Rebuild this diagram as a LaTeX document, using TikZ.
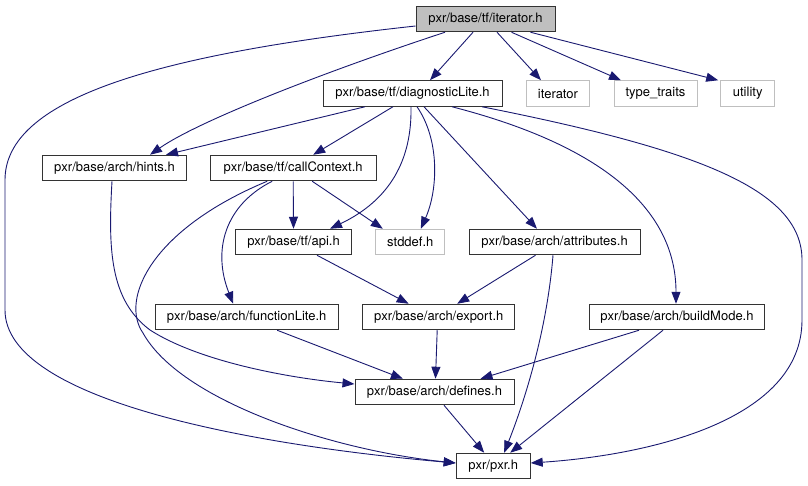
\documentclass[tikz,border=0pt]{standalone}
\usepackage{fontspec}
\setmainfont{TeX Gyre Heros}
\usepackage{tikz}
\usetikzlibrary{arrows.meta,positioning}
\definecolor{edgeblue}{HTML}{191970}
\definecolor{sysgray}{HTML}{BFBFBF}
\tikzset{
  box/.style={rectangle,draw=black!80,line width=1pt,minimum height=25.5pt,inner sep=0pt},
  sysbox/.style={box,draw=sysgray},
  dep/.style={->,color=edgeblue,line width=0.9pt}
}

\begin{document}
\begin{tikzpicture}[x=1pt,y=-1pt,font=\fontsize{13}{15}\selectfont,>={Triangle[length=12pt,width=9pt]}]
\useasboundingbox (0,0) rectangle (808,485);
% \draw[help lines,step=50] (0,0) grid (808,485);
\node (iter) [box,fill=sysgray,minimum width=139] at (485.5,19) {pxr/base/tf/iterator.h};
\node (diag) [box,minimum width=179] at (412.5,93.5) {pxr/base/tf/diagnosticLite.h};
\node (iterstd) [sysbox,minimum width=63] at (558,93.5) {iterator};
\node (ttraits) [sysbox,minimum width=83] at (655.5,93.5) {type\_traits};
\node (util) [sysbox,minimum width=54] at (747.7,93.5) {utility};
\node (hints) [box,minimum width=144] at (114.5,168) {pxr/base/arch/hints.h};
\node (ctx) [box,minimum width=166] at (293.2,168) {pxr/base/tf/callContext.h};
\node (api) [box,minimum width=116] at (293.5,242) {pxr/base/tf/api.h};
\node (stddef) [sysbox,minimum width=69] at (410.3,242) {stddef.h};
\node (attr) [box,minimum width=171] at (554.5,242) {pxr/base/arch/attributes.h};
\node (flite) [box,minimum width=183] at (246.7,317) {pxr/base/arch/functionLite.h};
\node (export) [box,minimum width=152] at (438.7,317) {pxr/base/arch/export.h};
\node (bmode) [box,minimum width=175] at (677,317) {pxr/base/arch/buildMode.h};
\node (defs) [box,minimum width=159] at (434.5,392) {pxr/base/arch/defines.h};
\node (pxr) [box,minimum width=74] at (493.2,466) {pxr/pxr.h};
%
\draw[dep] ([yshift=-7]iter.west) .. controls (150,55) and (5,100) .. (5,180) -- (5,310) .. controls (5,400) and (250,445) .. ([yshift=3]pxr.west);
\draw[dep] ([xshift=-40.5]iter.south) .. controls (330,70) and (200,120) .. ([xshift=35.5]hints.north);
\path[dep] ([xshift=-12.5]iter.south) edge ([xshift=17.5]diag.north)
  ([xshift=11.5]iter.south) edge ([xshift=-17]iterstd.north)
  ([xshift=26]iter.south) edge ([xshift=-34.5]ttraits.north)
  ([xshift=45]iter.south) edge ([xshift=-2]util.north west);
%
\path[dep] ([xshift=-47.5]diag.south) edge ([xshift=51.5]hints.north)
  ([xshift=-19.5]diag.south) edge ([xshift=20]ctx.north)
  ([xshift=11.5]diag.south) edge ([xshift=-17.5]attr.north);
\draw[dep] ([xshift=-1.5]diag.south) .. controls (412,160) and (390,200) .. ([xshift=36.5]api.north);
\draw[dep] ([xshift=4.5]diag.south) .. controls (440,140) and (438,190) .. ([xshift=10.5]stddef.north);
\draw[dep] ([xshift=39.5]diag.south) .. controls (620,150) and (676,220) .. ([xshift=-1]bmode.north);
\draw[dep] ([xshift=69.5]diag.south) .. controls (700,150) and (802,190) .. (802,260) -- (802,320) .. controls (802,420) and (650,455) .. ([yshift=3]pxr.east);
%
\draw[dep] ([xshift=-2.5]hints.south) .. controls (108,250) and (110,300) .. (150,330) .. controls (200,362) and (290,378) .. ([yshift=8]defs.west);
\path[dep] (ctx.south) edge (api.north)
  ([xshift=19]ctx.south) edge ([xshift=-27.5]stddef.north);
\draw[dep] ([xshift=-21]ctx.south) .. controls (225,205) and (212,250) .. ([xshift=-13.5]flite.north);
\draw[dep] ([xshift=-26]ctx.south) .. controls (150,230) and (120,300) .. (143,333) .. controls (180,400) and (330,450) .. ([yshift=3]pxr.west);
%
\path[dep] ([xshift=23.5]api.south) edge ([xshift=-30]export.north)
  ([xshift=-19]attr.south) edge ([xshift=18.5]export.north)
  ([xshift=30.5]flite.south) edge ([xshift=-31.5]defs.north)
  ([xshift=-1.5]export.south) edge ([xshift=1]defs.north)
  ([xshift=-38]bmode.south) edge ([xshift=46]defs.north)
  ([xshift=-14]bmode.south) edge ([xshift=17]pxr.north)
  ([xshift=9.5]defs.south) edge ([xshift=-9]pxr.north);
\draw[dep] ([xshift=-1.5]attr.south) .. controls (547,330) and (525,400) .. ([xshift=11]pxr.north);
\end{tikzpicture}
\end{document}
